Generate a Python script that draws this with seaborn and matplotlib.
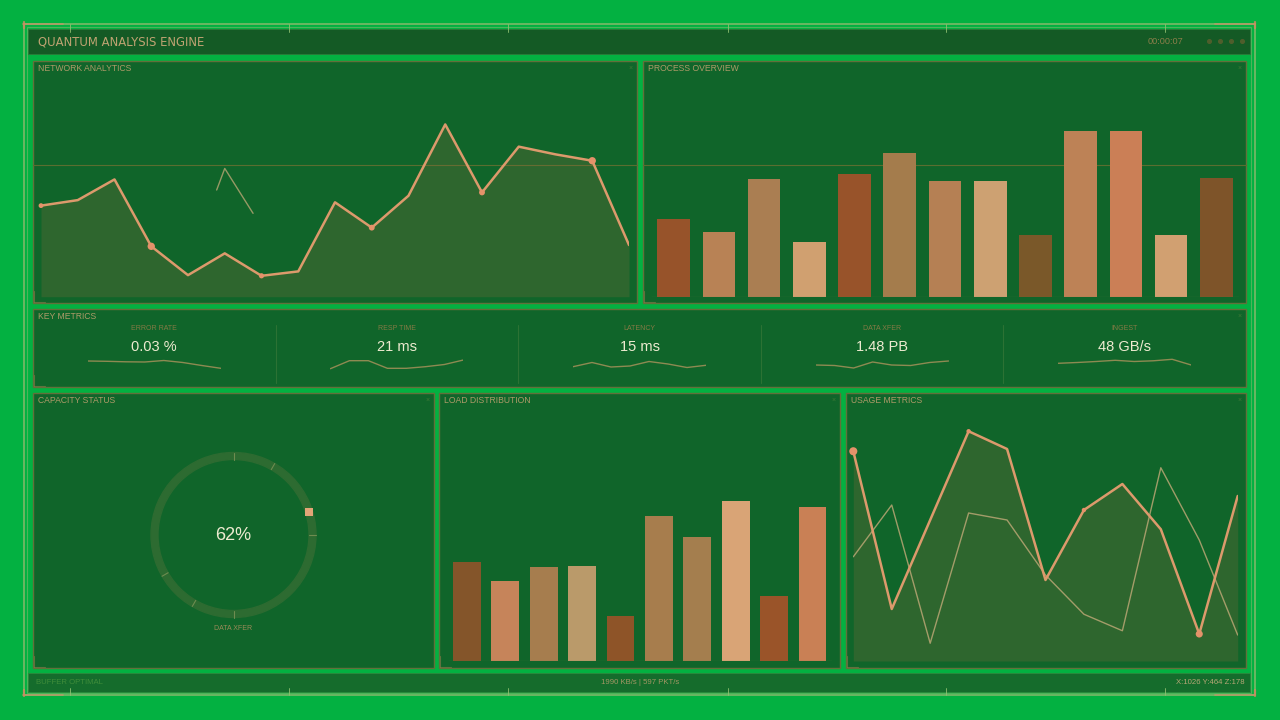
import numpy as np
import matplotlib
matplotlib.use("Agg")
import matplotlib.pyplot as plt
from matplotlib.patches import Rectangle, Wedge
import seaborn as sns

sns.set_theme(style="white")
plt.rcParams['font.family'] = ['Liberation Sans', 'DejaVu Sans']

W, H = 1280, 720

# ---------------- data ----------------
# network analytics (area line + faint ghost fragment)
net_values = [41.4, 43.9, 53.3, 22.9, 9.8, 19.7, 9.5, 11.5, 42.9, 31.4,
              45.9, 78.3, 47.4, 68.2, 64.7, 61.8, 23.5]
net_marker_idx = [0, 3, 6, 9, 12, 15]
net_marker_size = [12, 28, 14, 18, 18, 28]
net_ghost_x = [4.78, 5.0, 5.77]
net_ghost_y = [48.5, 58.3, 37.9]

# process overview bars
proc_labels = ["P01", "P02", "P03", "P04", "P05", "P06", "P07",
               "P08", "P09", "P10", "P11", "P12", "P13"]
proc_values = [47, 39, 71, 33, 74, 87, 70, 70, 37, 100, 100, 37, 72]
proc_colors = ["#97532A", "#B88255", "#AA7E52", "#D0A070", "#98532A",
               "#A47C4C", "#B58054", "#CDA172", "#7A5829", "#BD8256",
               "#CB7F56", "#D1A071", "#7E5429"]

# key metrics
kpi_labels = ["ERROR RATE", "RESP TIME", "LATENCY", "DATA XFER", "INGEST"]
kpi_values = ["0.03 %", "21 ms", "15 ms", "1.48 PB", "48 GB/s"]
kpi_sparks = [
    [11.0, 10.7, 10.2, 10.0, 11.5, 9.5, 6.5, 3.7],
    [3.3, 11.3, 11.3, 3.7, 3.7, 5.3, 7.5, 12.0],
    [5.3, 9.5, 5.0, 6.0, 10.5, 8.0, 4.5, 6.7],
    [7.0, 6.5, 4.0, 10.0, 7.0, 6.5, 9.5, 11.0],
    [8.7, 9.5, 10.5, 11.7, 10.5, 11.2, 12.7, 7.0],
]

# capacity gauge
gauge_value = 62
gauge_label = "DATA XFER"
gauge_ticks_deg = [90, 60, 0, -90, -120, -150]
gauge_marker_deg = 17

# load distribution bars
load_labels = ["L01", "L02", "L03", "L04", "L05", "L06", "L07", "L08", "L09", "L10"]
load_values = [61.7, 50.2, 58.8, 59.4, 28.1, 90.4, 77.7, 100, 40.8, 96.0]
load_colors = ["#84552A", "#C6845A", "#A67D4E", "#BA9A6A", "#8E5428",
               "#A77D4D", "#A47E4E", "#D9A476", "#9A5429", "#C98055"]

# usage metrics
usage_main = [83.9, 20.8, 56.4, 91.9, 84.8, 32.4, 60.4, 70.8, 52.7, 10.8, 66.0]
usage_second = [41.7, 62.4, 7.1, 59.2, 56.4, 34.4, 18.7, 12.1, 77.3, 48.4, 10.4]
usage_marker_idx = [0, 3, 6, 9]
usage_marker_size = [34, 10, 10, 26]

# ---------------- style ----------------
BG = "#03B141"
PANEL = "#10652A"
HEADER = "#145A25"
FOOTER = "#156C2C"
EDGE = "#62703A"
TITLE = "#AE9A68"
LINE = "#DC9A6C"
MARK = "#E4926A"
FILL = "#8B6A3A"
GHOST = "#B9A674"


def ax_px(x0, y0, x1, y1):
    a = fig.add_axes([x0 / W, 1 - y1 / H, (x1 - x0) / W, (y1 - y0) / H])
    a.set_facecolor("none")
    a.set_axis_off()
    return a


fig = plt.figure(figsize=(12.8, 7.2), dpi=100, facecolor=BG)
bg = fig.add_axes([0, 0, 1, 1])
bg.set_xlim(0, W)
bg.set_ylim(H, 0)
bg.set_axis_off()
bg.set_facecolor(BG)

# outer frame
bg.add_patch(Rectangle((23.5, 23.5), 1231.5, 671.5, fill=False, ec="#7DB868", lw=1.2))
bg.add_patch(Rectangle((27, 27), 1224, 666, fill=False, ec="#4DB45A", lw=0.8))
for x in [70, 289, 508, 728, 946, 1165]:
    bg.plot([x, x], [24, 32], color="#8FBF70", lw=0.6)
    bg.plot([x, x], [688, 695], color="#8FBF70", lw=0.6)
for (xa, xb, y) in [(23, 63, 24), (1215, 1255, 24), (23, 63, 695), (1215, 1255, 695)]:
    bg.plot([xa, xb], [y, y], color="#C8946A", lw=1.3, alpha=0.7)
for (x, ya, yb) in [(23.5, 22, 28), (1255, 22, 28), (23.5, 690, 696), (1255, 690, 696)]:
    bg.plot([x, x], [ya, yb], color="#D08A62", lw=1.6, alpha=0.8)

# header + footer
bg.add_patch(Rectangle((28, 28.5), 1222, 25, fc=HEADER, ec="#2C7A38", lw=0.6))
bg.text(38, 42, "QUANTUM ANALYSIS ENGINE", color="#BFA372", fontsize=8.4,
        va="center", ha="left", family="DejaVu Sans")
bg.text(1183, 42, "00:00:07", color="#8C7E4A", fontsize=6.6, va="center", ha="right")
bg.scatter([1209, 1220, 1231, 1242], [41, 41, 41, 41], s=7, color="#4F5E2C", zorder=3)

bg.add_patch(Rectangle((28, 673), 1222, 19, fc=FOOTER, ec="#2C8A3C", lw=0.6))
bg.text(36, 683, "BUFFER OPTIMAL", color="#3F8C3A", fontsize=5.6, va="center")
bg.text(640, 683, "1990 KB/s | 597 PKT/s", color="#A39664", fontsize=5.6,
        va="center", ha="center")
bg.text(1245, 683, "X:1026 Y:464 Z:178", color="#B7A676", fontsize=5.6,
        va="center", ha="right")

# panels
panels = [
    (33, 61, 637, 303, "NETWORK ANALYTICS"),
    (643, 61, 1246, 303, "PROCESS OVERVIEW"),
    (33, 309, 1246, 387, "KEY METRICS"),
    (33, 393, 434, 668, "CAPACITY STATUS"),
    (439, 393, 840, 668, "LOAD DISTRIBUTION"),
    (846, 393, 1246, 668, "USAGE METRICS"),
]
for x0, y0, x1, y1, name in panels:
    bg.add_patch(Rectangle((x0, y0), x1 - x0, y1 - y0, fc=PANEL, ec=EDGE, lw=1))
    bg.text(x0 + 5, y0 + 7.5, name, color=TITLE, fontsize=6.2, va="center", ha="left")
    bg.text(x1 - 6, y0 + 7.5, "×", color="#3F7A36", fontsize=5, va="center", ha="center")
    bg.plot([x0 + 1, x0 + 1], [y1 - 12, y1 - 1], color="#8C7A4A", lw=0.8, alpha=0.6)
    bg.plot([x0 + 1, x0 + 12], [y1 - 1, y1 - 1], color="#8C7A4A", lw=0.8, alpha=0.6)

# scan line across the top panels
bg.plot([33, 637], [165, 165], color="#5A6E30", lw=0.8)
bg.plot([643, 1246], [165, 165], color="#5A6E30", lw=0.8)

# ---------------- network analytics ----------------
ax = ax_px(41, 76.7, 629, 296.7)
net_x = np.arange(len(net_values))
ax.fill_between(net_x, net_values, 0, color=FILL, alpha=0.25, lw=0)
sns.lineplot(x=net_x, y=net_values, ax=ax, color=LINE, lw=1.8)
sns.lineplot(x=net_ghost_x, y=net_ghost_y, ax=ax, color=GHOST, lw=1, alpha=0.8)
ax.scatter(net_x[net_marker_idx], np.array(net_values)[net_marker_idx],
           s=net_marker_size, color=MARK, zorder=5, lw=0, clip_on=False)
ax.set_xlim(0, len(net_values) - 1)
ax.set_ylim(0, 100)
ax.set_axis_off()

# ---------------- process overview ----------------
ax = ax_px(651, 75, 1239, 296.7)
sns.barplot(x=proc_labels, y=proc_values, hue=proc_labels, palette=proc_colors,
            legend=False, width=0.72, saturation=1, ax=ax, edgecolor="none", linewidth=0)
ax.axhline(0, color="#6E7A3E", lw=0.8)
ax.set_ylim(0, 134)
ax.set_axis_off()

# ---------------- key metrics ----------------
col_w = (1246 - 33) / len(kpi_labels)
for i, (lab, val, spark) in enumerate(zip(kpi_labels, kpi_values, kpi_sparks)):
    cx = 33 + col_w * (i + 0.5)
    bg.text(cx, 329, lab, color="#857A45", fontsize=5, ha="center", va="center")
    bg.text(cx, 347, val, color="#EDEBD0", fontsize=10.5, ha="center", va="center")
    if i > 0:
        bg.plot([33 + col_w * i] * 2, [325, 383], color="#2C7234", lw=0.8)
    sax = ax_px(cx - 66.5, 355, cx + 66.5, 372)
    sns.lineplot(x=np.arange(len(spark)), y=spark, ax=sax, color="#8E8A52", lw=1)
    sax.set_xlim(0, len(spark) - 1)
    sax.set_ylim(0, 17)
    sax.set_axis_off()

# ---------------- capacity gauge ----------------
gax = ax_px(133.5, 435, 333.5, 635)
gax.set_xlim(-100, 100)
gax.set_ylim(-100, 100)
gax.add_patch(Wedge((0, 0), 82.5, 0, 360, width=7, color="#2D6B31"))
for d in gauge_ticks_deg:
    r = np.deg2rad(d)
    gax.plot([75.5 * np.cos(r), 82.5 * np.cos(r)], [75.5 * np.sin(r), 82.5 * np.sin(r)],
             color="#6E8C50", lw=0.8)
mr = np.deg2rad(gauge_marker_deg)
gax.scatter([79 * np.cos(mr)], [79 * np.sin(mr)], marker="s", s=30,
            color="#E3A577", zorder=5, lw=0)
gax.text(0, 0, f"{gauge_value}%", color="#EDEBD0", fontsize=13, ha="center", va="center")
gax.set_axis_off()
bg.text(233.5, 628, gauge_label, color="#9A8A58", fontsize=5, ha="center", va="center")

# ---------------- load distribution ----------------
ax = ax_px(447.7, 408, 831.7, 661)
sns.barplot(x=load_labels, y=load_values, hue=load_labels, palette=load_colors,
            legend=False, width=0.72, saturation=1, ax=ax, edgecolor="none", linewidth=0)
ax.axhline(0, color="#6E7A3E", lw=0.8)
ax.set_ylim(0, 158)
ax.set_axis_off()

# ---------------- usage metrics ----------------
ax = ax_px(853.3, 411, 1237.7, 661)
ux = np.arange(len(usage_main))
ax.fill_between(ux, usage_main, 0, color=FILL, alpha=0.25, lw=0)
sns.lineplot(x=ux, y=usage_second, ax=ax, color=GHOST, lw=1, alpha=0.85)
sns.lineplot(x=ux, y=usage_main, ax=ax, color=LINE, lw=1.8)
ax.scatter(ux[usage_marker_idx], np.array(usage_main)[usage_marker_idx],
           s=usage_marker_size, color=MARK, zorder=5, lw=0, clip_on=False)
ax.set_xlim(0, len(usage_main) - 1)
ax.set_ylim(0, 100)
ax.set_axis_off()

fig.savefig("out.png", dpi=100, facecolor=BG)
